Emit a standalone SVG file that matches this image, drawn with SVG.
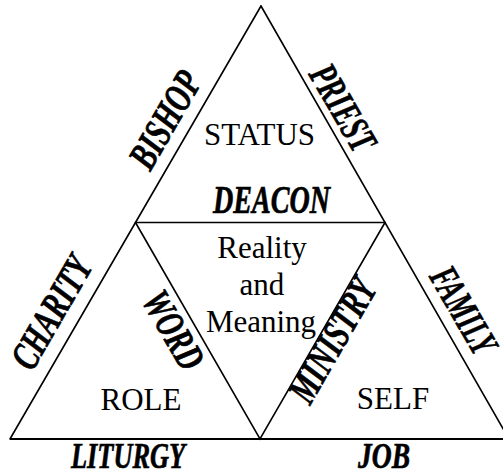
<svg xmlns="http://www.w3.org/2000/svg" width="503" height="474" viewBox="0 0 503 474">
<style>
.ln{stroke:#000;stroke-width:1.6;fill:none;stroke-linecap:round}
.base{stroke:#000;stroke-width:2.2;fill:none}
.t{font-family:"Liberation Serif","Times New Roman",serif;font-size:31px;fill:#000;text-anchor:middle}
.b{font-family:"Liberation Serif","Times New Roman",serif;font-size:40px;font-weight:bold;font-style:italic;fill:#000;stroke:#000;stroke-width:0.7;text-anchor:middle}
.bs{font-size:36px}
</style>
<rect width="503" height="474" fill="#fff"/>
<g id="connectors">
<line class="ln" x1="261" y1="6" x2="10" y2="439"/>
<line class="ln" x1="261" y1="6" x2="509" y2="439"/>
<line class="base" x1="10" y1="439" x2="503" y2="439"/>
<line class="ln" x1="135.5" y1="222.5" x2="385" y2="222.5"/>
<polyline class="ln" points="135.5,222.5 260,439 385,222.5"/>
</g>
<g id="status"><text class="t" x="259.5" y="145">STATUS</text></g>
<g id="reality"><text class="t" x="262" y="258">Reality</text><text class="t" x="262" y="295">and</text><text class="t" x="261" y="332">Meaning</text></g>
<g id="role"><text class="t" x="141" y="410">ROLE</text></g>
<g id="self"><text class="t" x="393" y="409">SELF</text></g>
<g id="bishop"><text class="b" transform="translate(176.5,126.6) rotate(-60)" textLength="105" lengthAdjust="spacingAndGlyphs">BISHOP</text></g>
<g id="priest"><text class="b" transform="translate(331.5,114.6) rotate(60)" textLength="94" lengthAdjust="spacingAndGlyphs">PRIEST</text></g>
<g id="deacon"><text class="b" x="271.5" y="213" textLength="117" lengthAdjust="spacingAndGlyphs">DEACON</text></g>
<g id="charity"><text class="b" transform="translate(63,319.1) rotate(-60)" textLength="123" lengthAdjust="spacingAndGlyphs">CHARITY</text></g>
<g id="word"><text class="b" transform="translate(162,336.6) rotate(60)" textLength="84" lengthAdjust="spacingAndGlyphs">WORD</text></g>
<g id="ministry"><text class="b" transform="translate(344,347.1) rotate(-60)" textLength="136" lengthAdjust="spacingAndGlyphs">MINISTRY</text></g>
<g id="family"><text class="b" transform="translate(452,317) rotate(60)" textLength="94" lengthAdjust="spacingAndGlyphs">FAMILY</text></g>
<g id="liturgy"><text class="b bs" x="128" y="468" textLength="114" lengthAdjust="spacingAndGlyphs">LITURGY</text></g>
<g id="job"><text class="b bs" x="384" y="468" textLength="52" lengthAdjust="spacingAndGlyphs">JOB</text></g>
</svg>
